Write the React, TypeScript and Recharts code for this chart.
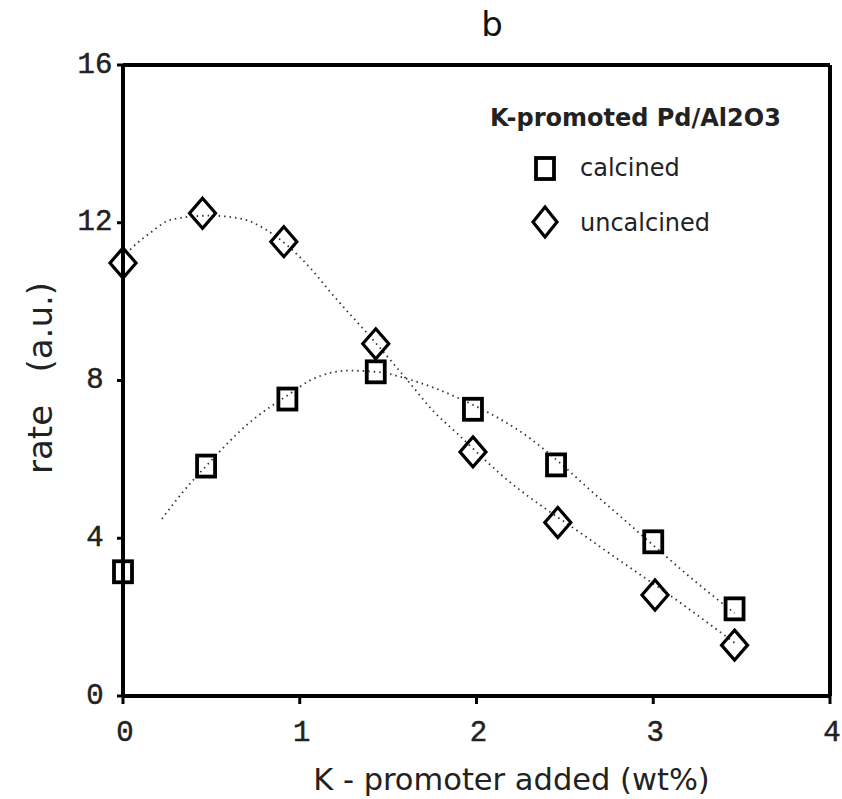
import React from 'react';
import { ComposedChart, Line, Scatter, XAxis, YAxis, ReferenceLine, Legend, Label } from 'recharts';

// measured points
const calcinedX = [0, 0.47, 0.93, 1.43, 1.98, 2.45, 3.0, 3.46];
const calcinedY = [3.15, 5.83, 7.53, 8.22, 7.27, 5.86, 3.91, 2.21];
const uncalcinedX = [0, 0.45, 0.91, 1.43, 1.98, 2.46, 3.01, 3.46];
const uncalcinedY = [10.98, 12.24, 11.52, 8.93, 6.19, 4.4, 2.56, 1.29];

// dotted trend curves
const calcinedFitX = [0.22, 0.34, 0.47, 0.72, 0.93, 1.08, 1.28, 1.43, 1.64, 1.89, 2.25, 2.74, 3.25, 3.46];
const calcinedFitY = [4.49, 5.18, 5.83, 6.95, 7.62, 8.05, 8.25, 8.22, 8.0, 7.57, 6.7, 4.84, 2.86, 2.1];
const uncalcinedFitX = [0, 0.04, 0.15, 0.28, 0.49, 0.68, 0.81, 1.06, 1.17, 1.43, 1.64, 1.75, 1.89, 2.13, 2.66, 3.17, 3.46];
const uncalcinedFitY = [11.1, 11.31, 11.73, 12.09, 12.18, 12.09, 11.82, 10.85, 10.26, 8.95, 7.84, 7.25, 6.66, 5.65, 3.91, 2.31, 1.35];

const xTicks = [0, 1, 2, 3, 4];
const yTicks = [0, 4, 8, 12, 16];

const seriesNames = ['calcined', 'uncalcined'];
const legendTitle = 'K-promoted Pd/Al2O3';
const chartTitle = 'b';
const xTitle = 'K - promoter added (wt%)';
const yTitle = 'rate\u00A0\u00A0\u00A0(a.u.)';

const zip = (xs: number[], ys: number[]) => xs.map((x, i) => ({ x, y: ys[i] }));
const calcinedData = zip(calcinedX, calcinedY);
const uncalcinedData = zip(uncalcinedX, uncalcinedY);
const calcinedFit = zip(calcinedFitX, calcinedFitY);
const uncalcinedFit = zip(uncalcinedFitX, uncalcinedFitY);

const SANS = '"DejaVu Sans", Verdana, sans-serif';
const MONO = '"Liberation Mono", "Courier New", monospace';

const SquareShape = (props: any) => {
  const { cx, cy } = props;
  return <rect x={cx - 9} y={cy - 10.5} width={18} height={21} fill="none" stroke="#000" strokeWidth={3.8} />;
};
const DiamondShape = (props: any) => {
  const { cx, cy } = props;
  return (
    <polygon
      points={`${cx},${cy - 15} ${cx + 13},${cy} ${cx},${cy + 15} ${cx - 13},${cy}`}
      fill="none"
      stroke="#000"
      strokeWidth={3.2}
      strokeLinejoin="miter"
    />
  );
};

const YTick = (props: any) => {
  const { x, y, payload } = props;
  return (
    <text x={x} y={y} textAnchor="middle" dominantBaseline="central" fontFamily={MONO} fontSize={29} fill="#222" stroke="#222" strokeWidth={0.5}>
      {payload.value}
    </text>
  );
};
const XTick = (props: any) => {
  const { x, y, payload } = props;
  return (
    <text x={x + 2} y={y} textAnchor="middle" dy="0.71em" fontFamily={MONO} fontSize={29} fill="#222" stroke="#222" strokeWidth={0.5}>
      {payload.value}
    </text>
  );
};

const LegendContent = () => (
  <svg width={370} height={150} style={{ display: 'block', overflow: 'visible' }}>
    <text x={30} y={36} fontFamily={SANS} fontWeight="bold" fontSize={24} fill="#222">{legendTitle}</text>
    <rect x={76} y={68} width={18} height={21} fill="none" stroke="#000" strokeWidth={3.8} />
    <text x={120} y={78} dominantBaseline="central" fontFamily={SANS} fontSize={24} fill="#222">{seriesNames[0]}</text>
    <polygon points={`85,117 97,132 85,147 73,132`} fill="none" stroke="#000" strokeWidth={3.2} />
    <text x={120} y={133} dominantBaseline="central" fontFamily={SANS} fontSize={24} fill="#222">{seriesNames[1]}</text>
  </svg>
);

export default function App() {
  return (
    <div style={{ position: 'absolute', left: 0, top: 0, width: 842, height: 799, background: '#fff' }}>
      <div
        style={{
          position: 'absolute',
          left: 442,
          top: 4,
          width: 100,
          textAlign: 'center',
          fontFamily: SANS,
          fontSize: 34,
          color: '#111',
          lineHeight: '40px',
        }}
      >
        {chartTitle}
      </div>
      <ComposedChart width={842} height={799} margin={{ top: 65, right: 12, left: 0, bottom: 0 }}>
        <XAxis
          type="number"
          dataKey="x"
          domain={[0, 4]}
          ticks={xTicks}
          height={103}
          stroke="#000"
          axisLine={{ stroke: '#000', strokeWidth: 4 }}
          tickLine={{ stroke: '#000', strokeWidth: 3 }}
          tickSize={8}
          tickMargin={16}
          tick={<XTick />}
        >
          <Label
            content={(p: any) => {
              const vb = p.viewBox;
              return (
                <text x={vb.x + vb.width / 2 + 35} y={790} textAnchor="middle" fontFamily={SANS} fontSize={30.5} fill="#222">
                  {xTitle}
                </text>
              );
            }}
          />
        </XAxis>
        <YAxis
          type="number"
          domain={[0, 16]}
          ticks={yTicks}
          width={123}
          axisLine={{ stroke: '#000', strokeWidth: 4 }}
          tickLine={{ stroke: '#000', strokeWidth: 3 }}
          tickSize={6}
          tickMargin={22}
          tick={<YTick />}
        >
          <Label
            content={() => (
              <text
                x={40}
                y={378}
                transform="rotate(-90 40 378)"
                textAnchor="middle"
                dominantBaseline="central"
                fontFamily={SANS}
                fontSize={34}
                fill="#222"
              >
                {yTitle}
              </text>
            )}
          />
        </YAxis>
        <ReferenceLine y={16} stroke="#000" strokeWidth={4} ifOverflow="visible" />
        <ReferenceLine x={4} stroke="#000" strokeWidth={4} ifOverflow="visible" />
        <Line
          data={calcinedFit}
          dataKey="y"
          type="monotone"
          stroke="#333"
          strokeWidth={1.8}
          strokeDasharray="1.5 4"
          dot={false}
          activeDot={false}
          legendType="none"
          isAnimationActive={false}
        />
        <Line
          data={uncalcinedFit}
          dataKey="y"
          type="monotone"
          stroke="#333"
          strokeWidth={1.8}
          strokeDasharray="1.5 4"
          dot={false}
          activeDot={false}
          legendType="none"
          isAnimationActive={false}
        />
        <Scatter name={seriesNames[0]} data={calcinedData} dataKey="y" shape={<SquareShape />} isAnimationActive={false} />
        <Scatter name={seriesNames[1]} data={uncalcinedData} dataKey="y" shape={<DiamondShape />} isAnimationActive={false} />
        <Legend
          layout="vertical"
          align="center"
          verticalAlign="middle"
          content={<LegendContent />}
          wrapperStyle={{ position: 'absolute', left: 460, top: 90, width: 370, height: 150 }}
        />
      </ComposedChart>
    </div>
  );
}
